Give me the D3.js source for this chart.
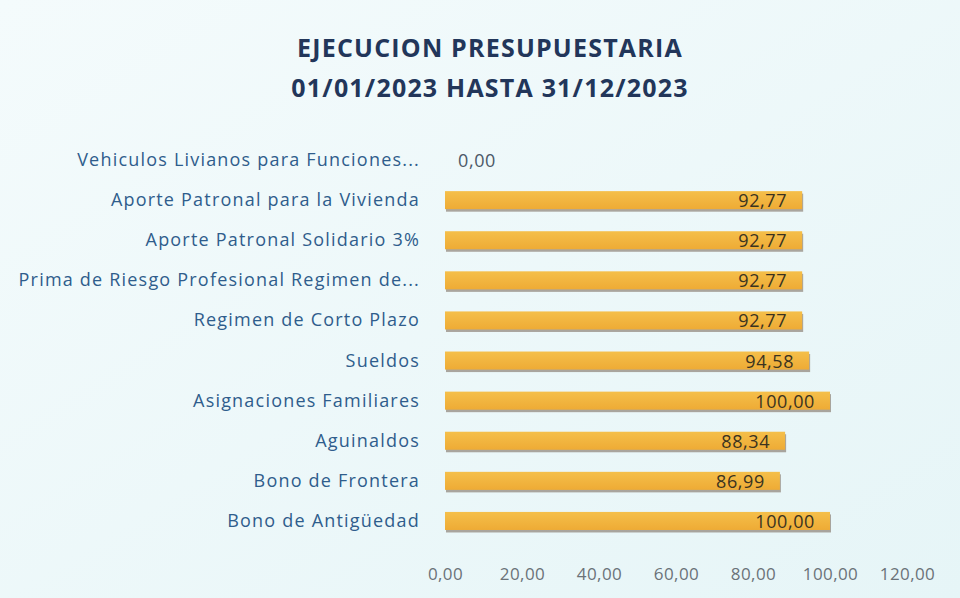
<!DOCTYPE html>
<html>
<head>
<meta charset="utf-8">
<script src="https://cdn.jsdelivr.net/npm/d3@7"></script>
<style>
  body { margin: 0; background: #eef8fa; }
  #chart svg { display: block; }
</style>
</head>
<body>
<div id="chart"></div>
<script>
// Data
const titleLines = ["EJECUCION PRESUPUESTARIA", "01/01/2023 HASTA 31/12/2023"];
const categories = [
    "Vehiculos Livianos para Funciones...",
    "Aporte Patronal para la Vivienda",
    "Aporte Patronal Solidario 3%",
    "Prima de Riesgo Profesional Regimen de...",
    "Regimen de Corto Plazo",
    "Sueldos",
    "Asignaciones Familiares",
    "Aguinaldos",
    "Bono de Frontera",
    "Bono de Antigüedad"
];
const values = [0, 92.77, 92.77, 92.77, 92.77, 94.58, 100, 88.34, 86.99, 100];
const ticks = [0, 20, 40, 60, 80, 100, 120];

function draw() {
    let dimensions = { width: 960, height: 598 };
    const font = '"Open Sans", Lato, sans-serif';

    const locale = d3.formatLocale({ decimal: ",", thousands: ".", grouping: [3], currency: ["", ""] });
    const fmt = locale.format(".2f");

    const svg = d3.select('#chart')
        .append('svg')
        .attr('width', dimensions.width)
        .attr('height', dimensions.height)
        .style('font-family', font);

    // background
    const defs = svg.append('defs');
    const bg = defs.append('linearGradient').attr('id', 'bg').attr('x1', 0).attr('y1', 0).attr('x2', 1).attr('y2', 1);
    bg.append('stop').attr('offset', '0%').attr('stop-color', '#f4fbfc');
    bg.append('stop').attr('offset', '100%').attr('stop-color', '#e6f5f7');
    svg.append('rect').attr('width', dimensions.width).attr('height', dimensions.height).attr('fill', 'url(#bg)');

    const barGrad = defs.append('linearGradient').attr('id', 'bar').attr('x1', 0).attr('y1', 0).attr('x2', 0).attr('y2', 1);
    barGrad.append('stop').attr('offset', '0%').attr('stop-color', '#f5bf4a');
    barGrad.append('stop').attr('offset', '100%').attr('stop-color', '#eeab35');

    // Title
    svg.append('g').selectAll('text')
        .data(titleLines)
        .join('text')
        .attr('x', 490)
        .attr('y', (d, i) => 57 + i * 40)
        .attr('text-anchor', 'middle')
        .attr('font-size', 25)
        .attr('font-weight', 'bold')
        .attr('letter-spacing', 1.2)
        .attr('fill', '#22365a')
        .text(d => d);

    // Scales
    const x = d3.scaleLinear().domain([0, 120]).range([445, 907]);
    const y = d3.scaleBand().domain(categories).range([140, 541]).paddingInner(0.55).paddingOuter(0.275);

    // Bars
    const bars = svg.append('g');
    bars.selectAll('rect.shadow')
        .data(values)
        .join('rect')
        .attr('class', 'shadow')
        .attr('x', x(0) + 1)
        .attr('y', (d, i) => y(categories[i]) + 2.5)
        .attr('width', d => Math.max(0, x(d) - x(0)))
        .attr('height', y.bandwidth())
        .attr('fill', '#7d6e60')
        .attr('opacity', d => d > 0 ? 0.6 : 0);
    bars.selectAll('rect.bar')
        .data(values)
        .join('rect')
        .attr('class', 'bar')
        .attr('x', x(0))
        .attr('y', (d, i) => y(categories[i]))
        .attr('width', d => x(d) - x(0))
        .attr('height', y.bandwidth())
        .attr('fill', 'url(#bar)');

    // Value labels
    svg.append('g').selectAll('text')
        .data(values)
        .join('text')
        .attr('x', d => d > 0 ? x(d) - 15 : x(0) + 13)
        .attr('y', (d, i) => y(categories[i]) + y.bandwidth() / 2 + 7)
        .attr('text-anchor', d => d > 0 ? 'end' : 'start')
        .attr('font-size', 18)
        .attr('letter-spacing', 0.6)
        .attr('fill', d => d > 0 ? '#3b3320' : '#4b5868')
        .text(d => fmt(d));

    // Category axis
    svg.append('g').selectAll('text')
        .data(categories)
        .join('text')
        .attr('x', 420)
        .attr('y', d => y(d) + y.bandwidth() / 2 + 6)
        .attr('text-anchor', 'end')
        .attr('font-size', 18)
        .attr('letter-spacing', 1.2)
        .attr('fill', '#2f5d8c')
        .text(d => d);

    // Value axis
    const xAxis = d3.axisBottom(x).tickValues(ticks).tickFormat(fmt).tickSize(0);
    const ax = svg.append('g')
        .attr('transform', 'translate(0, 565)')
        .call(xAxis);
    ax.select('.domain').remove();
    ax.selectAll('text')
        .attr('font-family', font)
        .attr('font-size', 17)
        .attr('letter-spacing', 0.4)
        .attr('fill', '#6b7278');
}

draw();
</script>
</body>
</html>
